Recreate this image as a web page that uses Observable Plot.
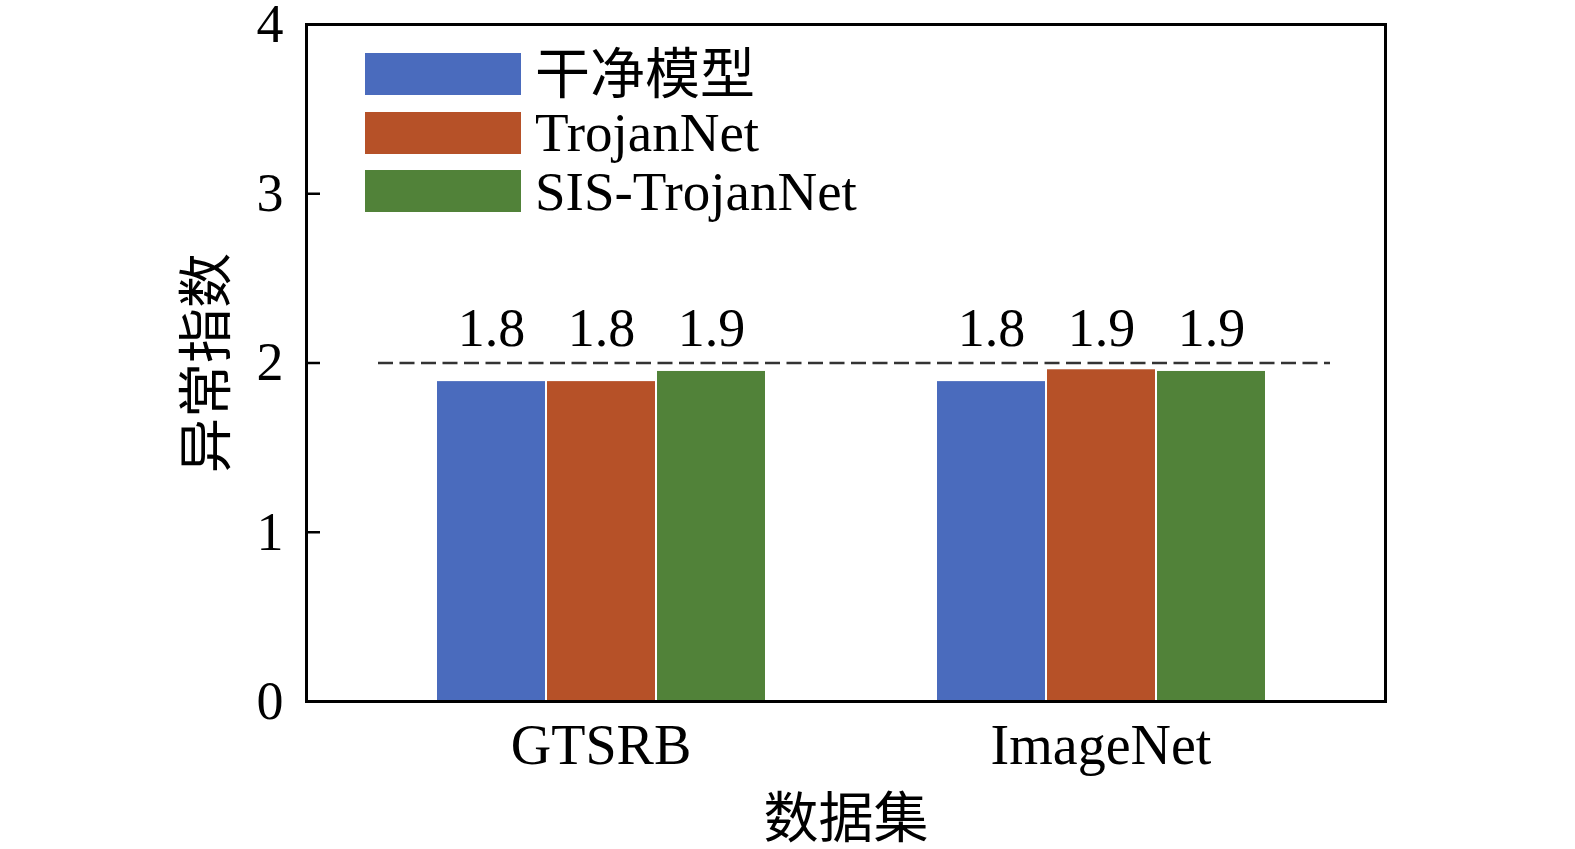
<!DOCTYPE html>
<html>
<head>
<meta charset="utf-8">
<script src="https://cdn.jsdelivr.net/npm/d3@7"></script>
<script src="https://cdn.jsdelivr.net/npm/@observablehq/plot@0.6"></script>
<style>
  html, body { margin: 0; padding: 0; background: #fff; overflow: hidden; width: 1575px; height: 849px; }
  #wrap { position: relative; width: 1575px; height: 849px; font-family: "Liberation Serif", "Noto Sans CJK SC", serif; }
  #wrap svg { position: absolute; left: 0; top: 0; max-width: none !important; width: 1575px !important; height: 849px !important; overflow: visible; }
  #legend { position: absolute; left: 365px; top: 45px; }
  .item { display: flex; align-items: center; height: 58.5px; }
  .sw { width: 156px; height: 42px; margin-right: 14px; }
  .lab { font-size: 55px; color: #000; line-height: 1; white-space: nowrap; }
</style>
</head>
<body>
<div id="wrap"></div>
<script>
const datasets = ["GTSRB", "ImageNet"];
const series = ["干净模型", "TrojanNet", "SIS-TrojanNet"];
const cleanValues = [1.89, 1.89];
const trojanValues = [1.89, 1.96];
const sisValues = [1.95, 1.95];
const cleanLabels = ["1.8", "1.8"];
const trojanLabels = ["1.8", "1.9"];
const sisLabels = ["1.9", "1.9"];
const yTicks = [0, 1, 2, 3, 4];
const threshold = [2];
const colors = ["#4a6bbd", "#b65128", "#518239"];
const yTitle = "异常指数";
const xTitle = "数据集";

const valueSets = [cleanValues, trojanValues, sisValues];
const labelSets = [cleanLabels, trojanLabels, sisLabels];
const rows = [];
datasets.forEach((d, i) => {
  series.forEach((s, j) => {
    rows.push({dataset: d, series: s, value: valueSets[j][i], label: labelSets[j][i]});
  });
});

const font = "Liberation Serif, Noto Sans CJK SC, serif";
const common = {
  width: 1575,
  height: 849,
  marginLeft: 306,
  marginRight: 190,
  marginTop: 24,
  marginBottom: 148,
  y: {domain: [0, 4], axis: null}
};

// Bars, value labels and category labels (faceted by dataset)
const barsPlot = Plot.plot({
  ...common,
  style: {fontFamily: font, background: "#fff", color: "#000"},
  fx: {domain: datasets, axis: null, paddingInner: 0.3373, paddingOuter: 0.2455, align: 0.522},
  x: {domain: series, axis: null, padding: 0},
  color: {domain: series, range: colors},
  marks: [
    Plot.barY(rows, {fx: "dataset", x: "series", y: "value", fill: "series", insetLeft: 1, insetRight: 1}),
    Plot.text(rows, {fx: "dataset", x: "series", y: () => 2.2, text: "label", fontSize: 54, fill: "#000", lineAnchor: "middle"}),
    Plot.text(datasets, {fx: d => d, text: d => d, frameAnchor: "bottom", lineAnchor: "middle", dy: 45, fontSize: 56, fill: "#000"})
  ]
});

// Frame, y axis, threshold line and titles (overlay)
const axesPlot = Plot.plot({
  ...common,
  style: {fontFamily: font, background: "transparent", color: "#000"},
  marks: [
    Plot.ruleY(threshold, {stroke: "#333", strokeWidth: 2.5, strokeDasharray: "15,6.5", insetLeft: 72, insetRight: 55}),
    Plot.tickY(yTicks, {y: d => d, stroke: "#000", strokeWidth: 2.5, insetRight: 1065}),
    Plot.text(yTicks, {y: d => d, text: d => String(d), frameAnchor: "left", textAnchor: "end", lineAnchor: "middle", dx: -23, fontSize: 54, fill: "#000"}),
    Plot.text([yTitle], {text: d => d, frameAnchor: "left", rotate: -90, textAnchor: "middle", lineAnchor: "middle", dx: -99, fontSize: 55, fill: "#000"}),
    Plot.text([xTitle], {text: d => d, frameAnchor: "bottom", textAnchor: "middle", lineAnchor: "middle", dy: 118, fontSize: 55, fill: "#000"}),
    Plot.frame({stroke: "#000", strokeWidth: 3})
  ]
});

const wrap = document.getElementById("wrap");
wrap.appendChild(barsPlot);
wrap.appendChild(axesPlot);

const legend = document.createElement("div");
legend.id = "legend";
series.forEach((s, j) => {
  const item = document.createElement("div");
  item.className = "item";
  const sw = document.createElement("div");
  sw.className = "sw";
  sw.style.background = colors[j];
  const lab = document.createElement("span");
  lab.className = "lab";
  lab.textContent = s;
  item.appendChild(sw);
  item.appendChild(lab);
  legend.appendChild(item);
});
wrap.appendChild(legend);
</script>
</body>
</html>
